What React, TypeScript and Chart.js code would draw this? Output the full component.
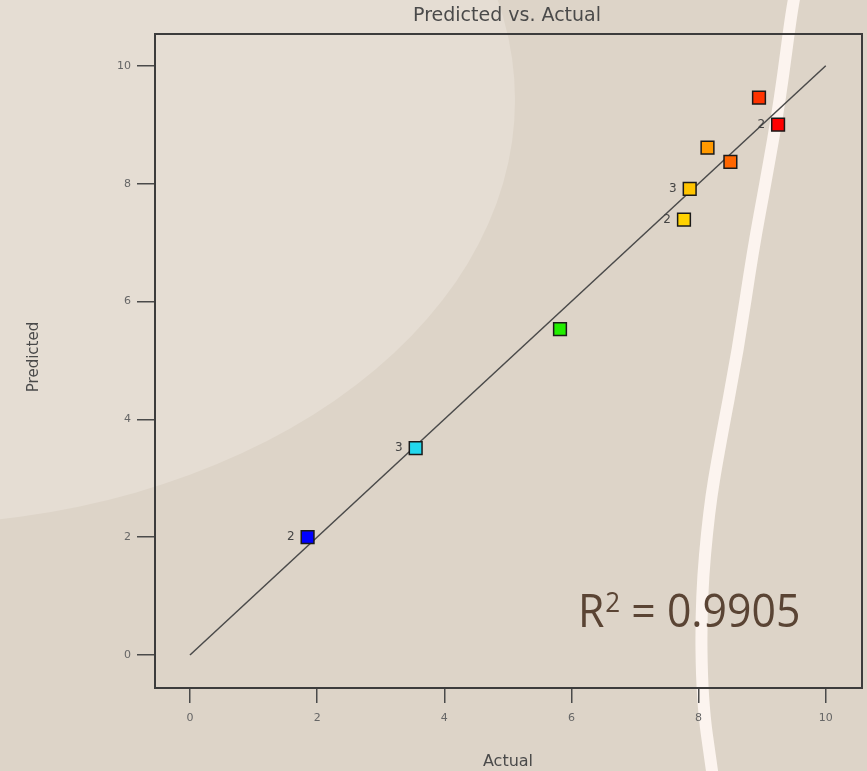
import React, { useEffect, useRef } from "react";
import { Chart, registerables } from "chart.js";

Chart.register(...registerables);

// Data
const actualValues = [1.85, 3.55, 5.82, 7.77, 7.86, 8.14, 8.5, 8.95, 9.25];
const predictedValues = [2.0, 3.51, 5.53, 7.39, 7.91, 8.61, 8.37, 9.46, 9.0];
const pointColors = ["#0000ff", "#22d8ee", "#22ee00", "#ffd200", "#ffc400", "#ff9900", "#ff6600", "#ff3300", "#ff0000"];
const pointCounts = ["2", "3", "", "2", "3", "", "", "", "2"];
const axisTicks = [0, 2, 4, 6, 8, 10];
const fitLine = [0, 10];
const titleText = "Predicted vs. Actual";
const xTitle = "Actual";
const yTitle = "Predicted";
const r2Value = "0.9905";

const FONT = "'DejaVu Sans', sans-serif";
const R2FONT = "'Open Sans', sans-serif";

const curvePts: [number, number][] = [
  [796, -10], [793, 0], [780, 100], [766, 180], [753, 250], [738, 350],
  [719, 450], [709, 510], [701, 600], [702, 700], [712, 771], [714, 785],
];

const decorPlugin = {
  id: "decor",
  beforeDraw(chart: any) {
    const ctx = chart.ctx;
    const w = chart.width;
    const h = chart.height;
    ctx.save();
    ctx.fillStyle = "#ddd4c8";
    ctx.fillRect(0, 0, w, h);
    // light blob top-left
    ctx.fillStyle = "#e5ddd3";
    ctx.beginPath();
    ctx.ellipse(-100, 100, 615, 425, 0, 0, Math.PI * 2);
    ctx.fill();
    // white curve
    ctx.strokeStyle = "#fcf4ef";
    ctx.lineWidth = 12;
    ctx.lineCap = "round";
    ctx.lineJoin = "round";
    ctx.beginPath();
    ctx.moveTo(curvePts[0][0], curvePts[0][1]);
    for (let i = 1; i < curvePts.length - 1; i++) {
      const mx = (curvePts[i][0] + curvePts[i + 1][0]) / 2;
      const my = (curvePts[i][1] + curvePts[i + 1][1]) / 2;
      ctx.quadraticCurveTo(curvePts[i][0], curvePts[i][1], mx, my);
    }
    const last = curvePts[curvePts.length - 1];
    ctx.lineTo(last[0], last[1]);
    ctx.stroke();
    ctx.restore();
  },
  afterDraw(chart: any) {
    const ctx = chart.ctx;
    const a = chart.chartArea;
    const xs = chart.scales.x;
    const ys = chart.scales.y;
    ctx.save();
    // frame
    ctx.strokeStyle = "#3c3c3c";
    ctx.lineWidth = 2;
    ctx.strokeRect(a.left, a.top, a.right - a.left, a.bottom - a.top);
    // title
    ctx.fillStyle = "#4a4a4a";
    ctx.font = `19px ${FONT}`;
    ctx.textAlign = "center";
    ctx.textBaseline = "middle";
    ctx.fillText(titleText, 507, 16);
    // axis titles
    ctx.font = `16px ${FONT}`;
    ctx.fillText(xTitle, 508, 762);
    ctx.save();
    ctx.translate(34, 357);
    ctx.rotate(-Math.PI / 2);
    ctx.font = `15px ${FONT}`;
    ctx.fillText(yTitle, 0, 0);
    ctx.restore();
    // point count labels
    ctx.font = `12px ${FONT}`;
    ctx.fillStyle = "#444";
    ctx.textAlign = "right";
    actualValues.forEach((v, i) => {
      const lbl = pointCounts[i];
      if (!lbl) return;
      const px = xs.getPixelForValue(v);
      const py = ys.getPixelForValue(predictedValues[i]);
      ctx.fillText(lbl, px - 13, py);
    });
    // R^2 annotation
    ctx.fillStyle = "#5a4434";
    ctx.textAlign = "left";
    ctx.textBaseline = "alphabetic";
    ctx.save();
    ctx.translate(578, 627);
    ctx.scale(0.93, 1);
    ctx.font = `46px ${R2FONT}`;
    let x = 0;
    ctx.fillText("R", x, 0);
    x += ctx.measureText("R").width + 1;
    ctx.font = `28px ${R2FONT}`;
    ctx.fillText("2", x, -15);
    x += ctx.measureText("2").width;
    ctx.font = `46px ${R2FONT}`;
    ctx.fillText(" = " + r2Value, x, 0);
    ctx.restore();
    ctx.restore();
  },
};

export default function App() {
  const canvasRef = useRef<HTMLCanvasElement | null>(null);

  useEffect(() => {
    document.body.style.margin = "0";
    const canvas = canvasRef.current;
    if (!canvas) return;
    const chart = new Chart(canvas, {
      type: "scatter",
      data: {
        datasets: [
          {
            type: "line",
            data: fitLine.map((v) => ({ x: v, y: v })),
            borderColor: "#4a4a4a",
            borderWidth: 1.5,
            pointRadius: 0,
            fill: false,
            order: 2,
          } as any,
          {
            data: actualValues.map((v, i) => ({ x: v, y: predictedValues[i] })),
            pointStyle: "rect",
            pointRadius: 9,
            pointBackgroundColor: pointColors,
            pointBorderColor: "#1a1a1a",
            pointBorderWidth: 1.5,
            order: 1,
          },
        ],
      },
      options: {
        animation: false,
        responsive: true,
        maintainAspectRatio: false,
        layout: { autoPadding: false, padding: { left: 0, right: 5, top: 34, bottom: 0 } } as any,
        plugins: {
          legend: { display: false },
          tooltip: { enabled: false },
          title: { display: false },
        },
        scales: {
          x: {
            type: "linear",
            min: -0.55,
            max: 10.57,
            afterBuildTicks: (s: any) => {
              s.ticks = axisTicks.map((v) => ({ value: v }));
            },
            afterFit: (s: any) => {
              s.height = 83;
              s.paddingLeft = 0;
              s.paddingRight = 0;
            },
            grid: {
              drawOnChartArea: false,
              drawTicks: true,
              tickLength: 15,
              color: "#4a4a4a",
              lineWidth: 1.5,
            },
            border: { display: false },
            ticks: {
              color: "#666",
              font: { size: 11, family: FONT },
              padding: 9,
              maxRotation: 0,
            },
          },
          y: {
            type: "linear",
            min: -0.56,
            max: 10.54,
            afterBuildTicks: (s: any) => {
              s.ticks = axisTicks.map((v) => ({ value: v }));
            },
            afterFit: (s: any) => {
              s.width = 155;
              s.paddingTop = 0;
              s.paddingBottom = 0;
            },
            grid: {
              drawOnChartArea: false,
              drawTicks: true,
              tickLength: 18,
              color: "#4a4a4a",
              lineWidth: 1.5,
            },
            border: { display: false },
            ticks: {
              color: "#666",
              font: { size: 11, family: FONT },
              padding: 6,
            },
          },
        },
      },
      plugins: [decorPlugin],
    });
    return () => chart.destroy();
  }, []);

  return (
    <div style={{ width: 867, height: 771, position: "relative" }}>
      <canvas ref={canvasRef} />
    </div>
  );
}
